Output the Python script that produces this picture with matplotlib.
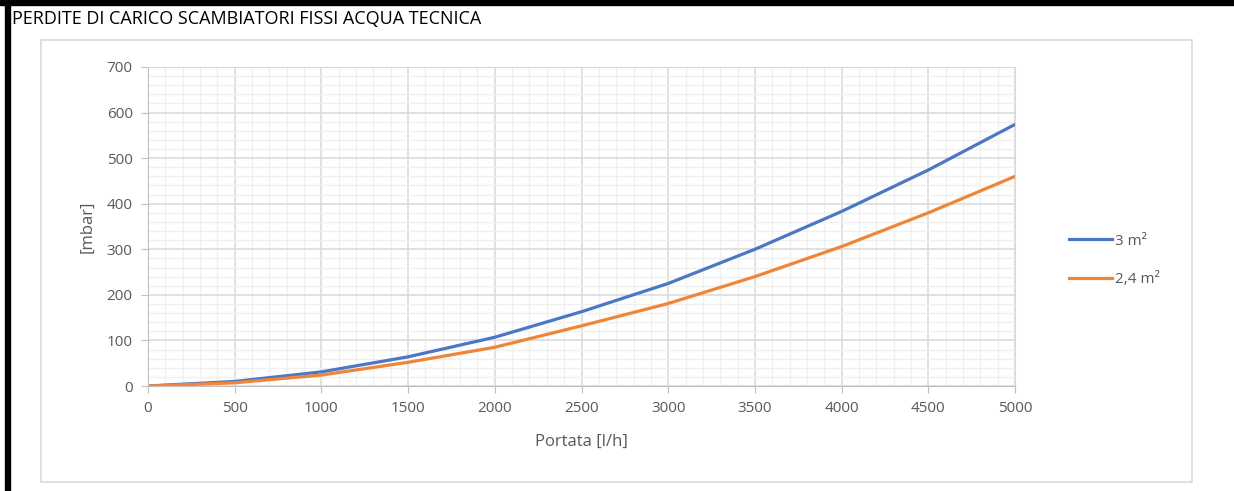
import numpy as np
import matplotlib.pyplot as plt
from matplotlib.patches import Rectangle
from matplotlib.ticker import MultipleLocator

plt.rcParams['font.family'] = ['Open Sans', 'DejaVu Sans']

portata = [0, 500, 1000, 1500, 2000, 2500, 3000, 3500, 4000, 4500, 5000]
perdite_3 = [0, 10, 31, 64, 107, 163, 225, 300, 383, 474, 574]
perdite_24 = [0, 7, 24, 52, 85, 132, 181, 240, 306, 380, 460]
labels = ["3 m²", "2,4 m²"]

W, H = 1234, 491
fig = plt.figure(figsize=(W / 100, H / 100), dpi=100)

# black border of the sheet (top and left) and grey chart frame
fig.patches.append(Rectangle((0, 1 - 5 / H), 1, 5 / H, transform=fig.transFigure,
                             color='black', zorder=-2))
fig.patches.append(Rectangle((5 / W, 0), 5 / W, 1, transform=fig.transFigure,
                             color='black', zorder=-2))
fig.patches.append(Rectangle((41 / W, 1 - 482 / H), (1192 - 41) / W, (482 - 40) / H,
                             transform=fig.transFigure, facecolor='white',
                             edgecolor='#d9d9d9', lw=1.2, zorder=-2))

fig.text(12 / W, 1 - 19 / H, "PERDITE DI CARICO SCAMBIATORI FISSI ACQUA TECNICA",
         fontsize=13, color='black', va='center', ha='left')

ax = fig.add_axes([148 / W, 1 - 386 / H, 867 / W, 319 / H])
ax.patch.set_alpha(0)
ax.plot(portata, perdite_3, color='#4a78c6', lw=2.3, label=labels[0])
ax.plot(portata, perdite_24, color='#f08536', lw=2.3, label=labels[1])

ax.set_xlim(0, 5000)
ax.set_ylim(0, 700)
ax.xaxis.set_major_locator(MultipleLocator(500))
ax.xaxis.set_minor_locator(MultipleLocator(100))
ax.yaxis.set_major_locator(MultipleLocator(100))
ax.yaxis.set_minor_locator(MultipleLocator(20))
ax.grid(which='major', color='#d9d9d9', lw=1.1)
ax.grid(which='minor', color='#f0f0f0', lw=1.0)
ax.set_axisbelow(True)
for s in ax.spines.values():
    s.set_color('#d9d9d9')
ax.spines['left'].set_color('#bfbfbf')
ax.spines['bottom'].set_color('#bfbfbf')
ax.tick_params(which='major', length=5, color='#bfbfbf', labelcolor='#595959',
               labelsize=11, pad=6)
ax.tick_params(which='minor', length=0)

ax.set_xlabel("Portata [l/h]", fontsize=12, color='#595959', labelpad=13)
ax.set_ylabel("[mbar]", fontsize=12, color='#595959', labelpad=8)

ax.legend(loc='center left', bbox_to_anchor=(1069 / W, 1 - 260.5 / H),
          bbox_transform=fig.transFigure, frameon=False, fontsize=11,
          handlelength=2.8, handletextpad=0.2, labelspacing=1.55,
          borderpad=0, borderaxespad=0, labelcolor='#595959')

fig.savefig("out.png", dpi=100, facecolor='white')
